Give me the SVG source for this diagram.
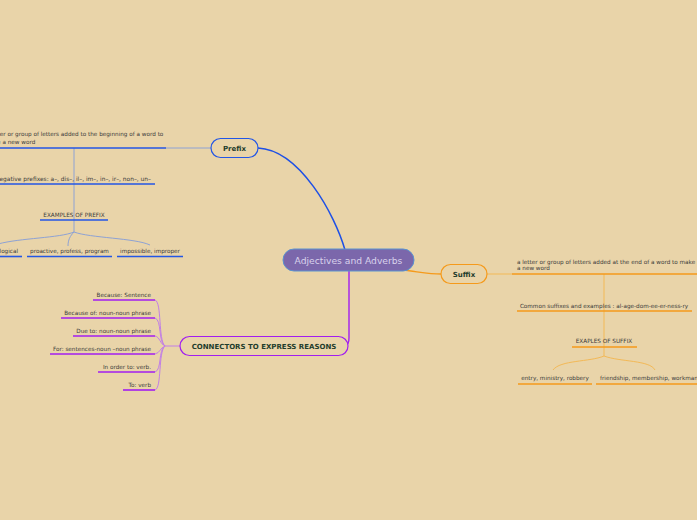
<svg xmlns="http://www.w3.org/2000/svg" width="697" height="520" viewBox="0 0 697 520">
<style>
text{font-family:"DejaVu Sans","Liberation Sans",sans-serif;fill:#3a3a3a;font-size:5.7px}
.nt{font-weight:bold;fill:#1f3d2c;font-size:7px}
.ul{fill:none;stroke-width:1.6}
.b{stroke:#2356e6}.o{stroke:#f59a1b}.p{stroke:#a21ef0}
.tb{fill:none;stroke:#8ea2d4;stroke-width:1}
.to{fill:none;stroke:#f3b957;stroke-width:1}
.tp{fill:none;stroke:#c27ee6;stroke-width:1}
</style>
<rect width="697" height="520" fill="#e9d4a9"/>
<g id="connectors">
<path d="M345,250 C335,215 300,150 258,148" fill="none" stroke="#1e50e6" stroke-width="1.5"/>
<path d="M403,270 C420,272 430,274 441,274" fill="none" stroke="#f59a1b" stroke-width="1.3"/>
<path d="M349,271 L349,338 Q349,345 345,346" fill="none" stroke="#a21ef0" stroke-width="1.4"/>
<path class="tb" d="M211,148 L166,148"/>
<path class="tb" d="M74,148 L74,184 M74,184 L74,220 L74,232"/>
<path class="tb" d="M74,232 C60,238 20,238 -2,244 M74,232 C70,236 68,240 68,246 M74,232 C90,238 135,238 150,245"/>
<path class="to" d="M487,274 L512,274 M604,274 L604,311 L604,347 L604,356"/>
<path class="to" d="M604,356 C590,362 560,360 553,370 M604,356 C620,362 650,360 655,370"/>
<path class="tp" d="M180,346 L165,346"/>
<path class="tp" d="M165,346 C158,340 162,302 155,300 M165,346 C158,342 162,320 155,318 M165,346 C160,344 160,337 155,336 M165,346 C160,348 160,353 155,354 M165,346 C158,350 162,370 155,372 M165,346 C158,352 162,388 155,390"/>
</g>
<g id="central">
<rect x="283" y="249" width="131" height="22" rx="11" fill="#7b67ab" stroke="#5a93cf" stroke-width="1"/>
<text x="348.5" y="263.5" text-anchor="middle" style="font-size:9.2px;fill:#d9d2ec">Adjectives and Adverbs</text>
</g>
<g id="prefix">
<rect x="211" y="138.5" width="47" height="19" rx="9.5" fill="#e9d4a9" stroke="#2356e6" stroke-width="1.2"/>
<text class="nt" x="234.5" y="150.5" text-anchor="middle">Prefix</text>
</g>
<g id="prefix-def">
<text x="-15" y="136">a letter or group of letters added to the beginning of a word to</text>
<text x="-15" y="144">make a new word</text>
<path class="ul b" d="M-2,148 L166,148"/>
</g>
<g id="prefix-neg">
<text x="151" y="180.5" text-anchor="end" style="font-size:5.9px">Negative prefixes: a–, dis–, il–, im–, in–, ir–, non–, un–</text>
<path class="ul b" d="M-2,184 L155,184"/>
</g>
<g id="prefix-examples">
<text x="74" y="216.5" text-anchor="middle">EXAMPLES OF PREFIX</text>
<path class="ul b" d="M40,220 L108,220"/>
</g>
<g id="prefix-ex1">
<text x="18" y="252.5" text-anchor="end">illogical</text>
<path class="ul b" d="M-2,256.5 L22,256.5"/>
</g>
<g id="prefix-ex2">
<text x="69.5" y="252.5" text-anchor="middle">proactive, profess, program</text>
<path class="ul b" d="M27,256.5 L112,256.5"/>
</g>
<g id="prefix-ex3">
<text x="150" y="252.5" text-anchor="middle">impossible, improper</text>
<path class="ul b" d="M117,256.5 L183,256.5"/>
</g>
<g id="suffix">
<rect x="441" y="264.5" width="46" height="19" rx="9.5" fill="#e9d4a9" stroke="#f59a1b" stroke-width="1.2"/>
<text class="nt" x="464" y="276.5" text-anchor="middle">Suffix</text>
</g>
<g id="suffix-def">
<text x="517" y="263.5">a letter or group of letters added at the end of a word to make</text>
<text x="517" y="270">a new word</text>
<path class="ul o" d="M512,274 L699,274"/>
</g>
<g id="suffix-common">
<text x="604" y="307.5" text-anchor="middle">Common suffixes and examples : al-age-dom-ee-er-ness-ry</text>
<path class="ul o" d="M517,311 L692,311"/>
</g>
<g id="suffix-examples">
<text x="604" y="343" text-anchor="middle">EXAPLES OF SUFFIX</text>
<path class="ul o" d="M572,347 L637,347"/>
</g>
<g id="suffix-ex1">
<text x="555" y="380" text-anchor="middle">entry, ministry, robbery</text>
<path class="ul o" d="M518,384 L592,384"/>
</g>
<g id="suffix-ex2">
<text x="600" y="380">friendship, membership, workmanship</text>
<path class="ul o" d="M596,384 L699,384"/>
</g>
<g id="connectors-node">
<rect x="180" y="336.5" width="168" height="19" rx="9.5" fill="#e9d4a9" stroke="#a21ef0" stroke-width="1.2"/>
<text class="nt" x="264" y="348.5" text-anchor="middle">CONNECTORS TO EXPRESS REASONS</text>
</g>
<g id="c1"><text x="151" y="297" text-anchor="end">Because: Sentence</text><path class="ul p" d="M93,300 L155,300"/></g>
<g id="c2"><text x="151" y="315" text-anchor="end">Because of: noun-noun phrase</text><path class="ul p" d="M61,318 L155,318"/></g>
<g id="c3"><text x="151" y="333" text-anchor="end">Due to: noun-noun phrase</text><path class="ul p" d="M73,336 L155,336"/></g>
<g id="c4"><text x="151" y="351" text-anchor="end">For: sentences-noun –noun phrase</text><path class="ul p" d="M50,354 L155,354"/></g>
<g id="c5"><text x="151" y="369" text-anchor="end">In order to: verb.</text><path class="ul p" d="M98,372 L155,372"/></g>
<g id="c6"><text x="151" y="387" text-anchor="end">To: verb</text><path class="ul p" d="M123,390 L155,390"/></g>
</svg>
